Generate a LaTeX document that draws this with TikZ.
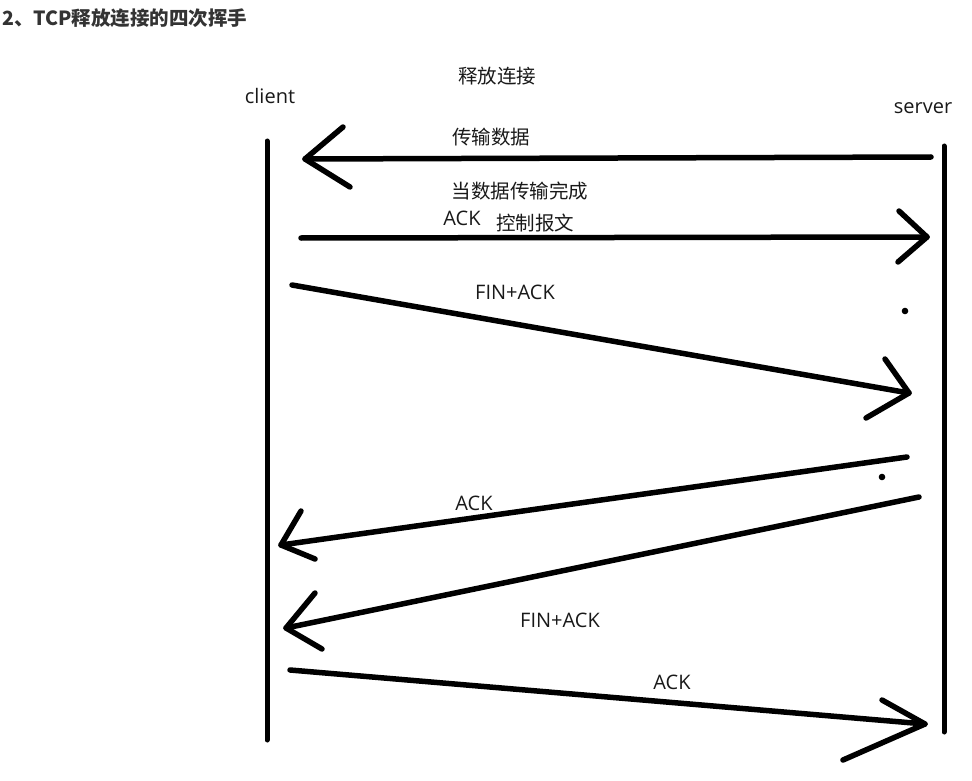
\documentclass[tikz,border=0pt]{standalone}
\usepackage{fontspec}
\setmainfont{Open Sans}
\newfontfamily\cjk{Noto Sans CJK SC}
\begin{document}
\begin{tikzpicture}[x=1pt,y=-1pt,
  en/.style={inner sep=0pt,font=\fontsize{20}{24}\selectfont,text=black!90},
  zh/.style={inner sep=0pt,font=\cjk\fontsize{19.5}{24}\selectfont,text=black!90},
  ttl/.style={inner sep=0pt,anchor=west,font=\cjk\bfseries\fontsize{19.5}{22}\selectfont,text=black!80},
  life/.style={line width=5pt,line cap=round},
  msg/.style={line width=5.5pt,line cap=round,line join=round},
  dotmark/.style={fill=black,draw=none}]
\useasboundingbox (0,0) rectangle (972,781);
% texts
\node[ttl] (title) at (2,18) {2、TCP释放连接的四次挥手};
\node[zh] (t0) at (497,76) {释放连接};
\node[en] (client) at (270,96) {client};
\node[en] (server) at (923,108) {server};
\node[zh] (t1) at (491,137) {传输数据};
\node[zh] (t2) at (520,191) {当数据传输完成};
\node[en] (ack1) at (462,218) {ACK};
\node[zh] (t3) at (535,223) {控制报文};
\node[en] (fa1) at (515,292) {FIN+ACK};
\node[en] (ack2) at (474,503) {ACK};
\node[en] (fa2) at (560,620) {FIN+ACK};
\node[en] (ack3) at (672,682) {ACK};
% lifelines
\coordinate (cTop) at (267,141); \coordinate (cBot) at (267,740);
\coordinate (sTop) at (944,146); \coordinate (sBot) at (944,732);
\draw[life] (cTop) -- (cBot);
\draw[life] (sTop) -- (sBot);
% arrow 1
\coordinate (a1s) at (931,157); \coordinate (a1e) at (305,159);
\coordinate (a1u) at (343,127); \coordinate (a1d) at (350,187);
\draw[msg] (a1s) -- (a1e);
\draw[msg] (a1u) -- (a1e) -- (a1d);
% arrow 2
\coordinate (a2s) at (301,238); \coordinate (a2e) at (927,237);
\coordinate (a2u) at (899,211); \coordinate (a2d) at (898,262);
\draw[msg] (a2s) -- (a2e);
\draw[msg] (a2u) -- (a2e) -- (a2d);
% arrow 3
\coordinate (a3s) at (292,285); \coordinate (a3e) at (909,393);
\coordinate (a3u) at (885,359); \coordinate (a3d) at (866,418);
\draw[msg] (a3s) -- (a3e);
\draw[msg] (a3u) -- (a3e) -- (a3d);
% arrow 4
\coordinate (a4s) at (907,457); \coordinate (a4e) at (281,545);
\coordinate (a4u) at (301,511); \coordinate (a4d) at (315,559);
\draw[msg] (a4s) -- (a4e);
\draw[msg] (a4u) -- (a4e) -- (a4d);
% arrow 5
\coordinate (a5s) at (919,497); \coordinate (a5e) at (286,628);
\coordinate (a5u) at (315,593); \coordinate (a5d) at (322,649);
\draw[msg] (a5s) -- (a5e);
\draw[msg] (a5u) -- (a5e) -- (a5d);
% arrow 6
\coordinate (a6s) at (290,670); \coordinate (a6e) at (925,724);
\coordinate (a6u) at (882,700); \coordinate (a6d) at (843,760);
\draw[msg] (a6s) -- (a6e);
\draw[msg] (a6u) -- (a6e) -- (a6d);
% dots
\fill[dotmark] (905,311) circle (3.3pt);
\fill[dotmark] (882,477) circle (3.3pt);
\end{tikzpicture}
\end{document}
